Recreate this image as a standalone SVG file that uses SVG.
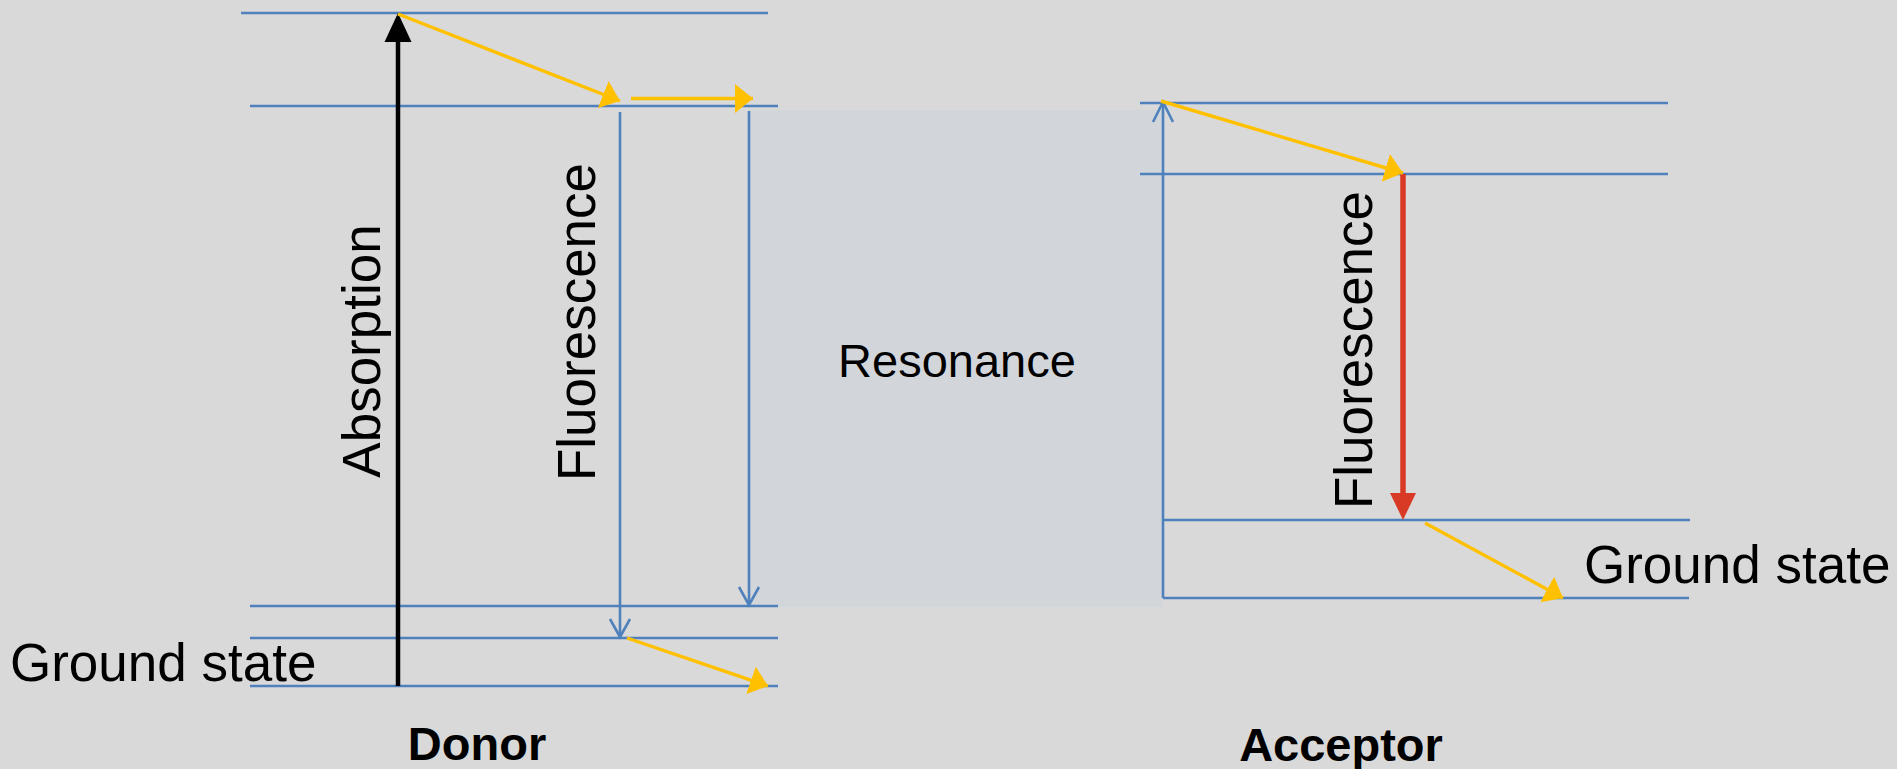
<svg xmlns="http://www.w3.org/2000/svg" width="1897" height="769" viewBox="0 0 1897 769">
  <defs>
    <style>
      .lvl { stroke: #4F81BD; stroke-width: 2.6; fill: none; }
      .blue { stroke: #4F81BD; stroke-width: 2.6; fill: none; }
      .yel { stroke: #FFC000; stroke-width: 3.4; fill: none; marker-end: url(#yhead); }
      .lbl { font-family: "Liberation Sans", Arial, sans-serif; font-size: 53px; fill: #000; }
      .title { font-family: "Liberation Sans", Arial, sans-serif; font-size: 47px; font-weight: bold; fill: #000; text-anchor: middle; }
    </style>
    <marker id="yhead" markerUnits="userSpaceOnUse" viewBox="0 0 20 30" markerWidth="20" markerHeight="30" refX="18" refY="14.5" orient="auto">
      <path d="M0,0 L18,14.5 L0,29 Z" fill="#FFC000"/>
    </marker>
  </defs>
  <rect x="0" y="0" width="1897" height="769" fill="#D9D9D9"/>

  <g id="resonance">
    <rect x="750" y="110" width="412" height="497" fill="#D2D6DB"/>
    <text class="lbl" x="957" y="377" style="font-size:47px" text-anchor="middle">Resonance</text>
  </g>

  <g id="donor">
    <line class="lvl" x1="241" y1="13" x2="768" y2="13"/>
    <line class="lvl" x1="250" y1="106" x2="778" y2="106"/>
    <line class="lvl" x1="250" y1="606" x2="778" y2="606"/>
    <line class="lvl" x1="250" y1="638" x2="778" y2="638"/>
    <line class="lvl" x1="250" y1="686" x2="778" y2="686"/>
    <text class="lbl" x="10" y="681">Ground state</text>
    <text class="title" x="477" y="760">Donor</text>
  </g>

  <g id="acceptor">
    <line class="lvl" x1="1140" y1="103" x2="1668" y2="103"/>
    <line class="lvl" x1="1140" y1="174" x2="1668" y2="174"/>
    <line class="lvl" x1="1163" y1="520" x2="1690" y2="520"/>
    <line class="lvl" x1="1163" y1="598" x2="1689" y2="598"/>
    <text class="lbl" x="1584" y="583">Ground state</text>
    <text class="title" x="1341" y="761">Acceptor</text>
  </g>

  <g id="connectors">
    <!-- Absorption -->
    <line x1="398" y1="686" x2="398" y2="40" stroke="#000" stroke-width="4.5"/>
    <polygon points="398,13 384.5,42 411.5,42" fill="#000"/>
    <text class="lbl" transform="translate(380,351) rotate(-90)" text-anchor="middle">Absorption</text>

    <!-- Donor fluorescence -->
    <line class="blue" x1="620" y1="112" x2="620" y2="637"/>
    <polyline class="blue" points="610,619 620,637 630,619"/>
    <text class="lbl" transform="translate(595,322) rotate(-90)" text-anchor="middle">Fluorescence</text>

    <!-- Resonance transfer -->
    <line class="blue" x1="749" y1="111" x2="749" y2="605"/>
    <polyline class="blue" points="739,587 749,605 759,587"/>
    <line class="blue" x1="1163" y1="598" x2="1163" y2="102"/>
    <polyline class="blue" points="1153,122 1163,102 1173,122"/>

    <!-- Acceptor fluorescence -->
    <line x1="1403" y1="174" x2="1403" y2="495" stroke="#D93A26" stroke-width="5.5"/>
    <polygon points="1403,520 1390,493 1416,493" fill="#D93A26"/>
    <text class="lbl" transform="translate(1372,350) rotate(-90)" text-anchor="middle">Fluorescence</text>

    <!-- Vibrational relaxation -->
    <line class="yel" x1="398" y1="14" x2="620" y2="101"/>
    <line class="yel" x1="631" y1="98.5" x2="753" y2="98.5"/>
    <line class="yel" x1="627" y1="638" x2="768" y2="686"/>
    <line class="yel" x1="1161" y1="101" x2="1403" y2="173"/>
    <line class="yel" x1="1425" y1="523" x2="1563" y2="598"/>
  </g>
</svg>
